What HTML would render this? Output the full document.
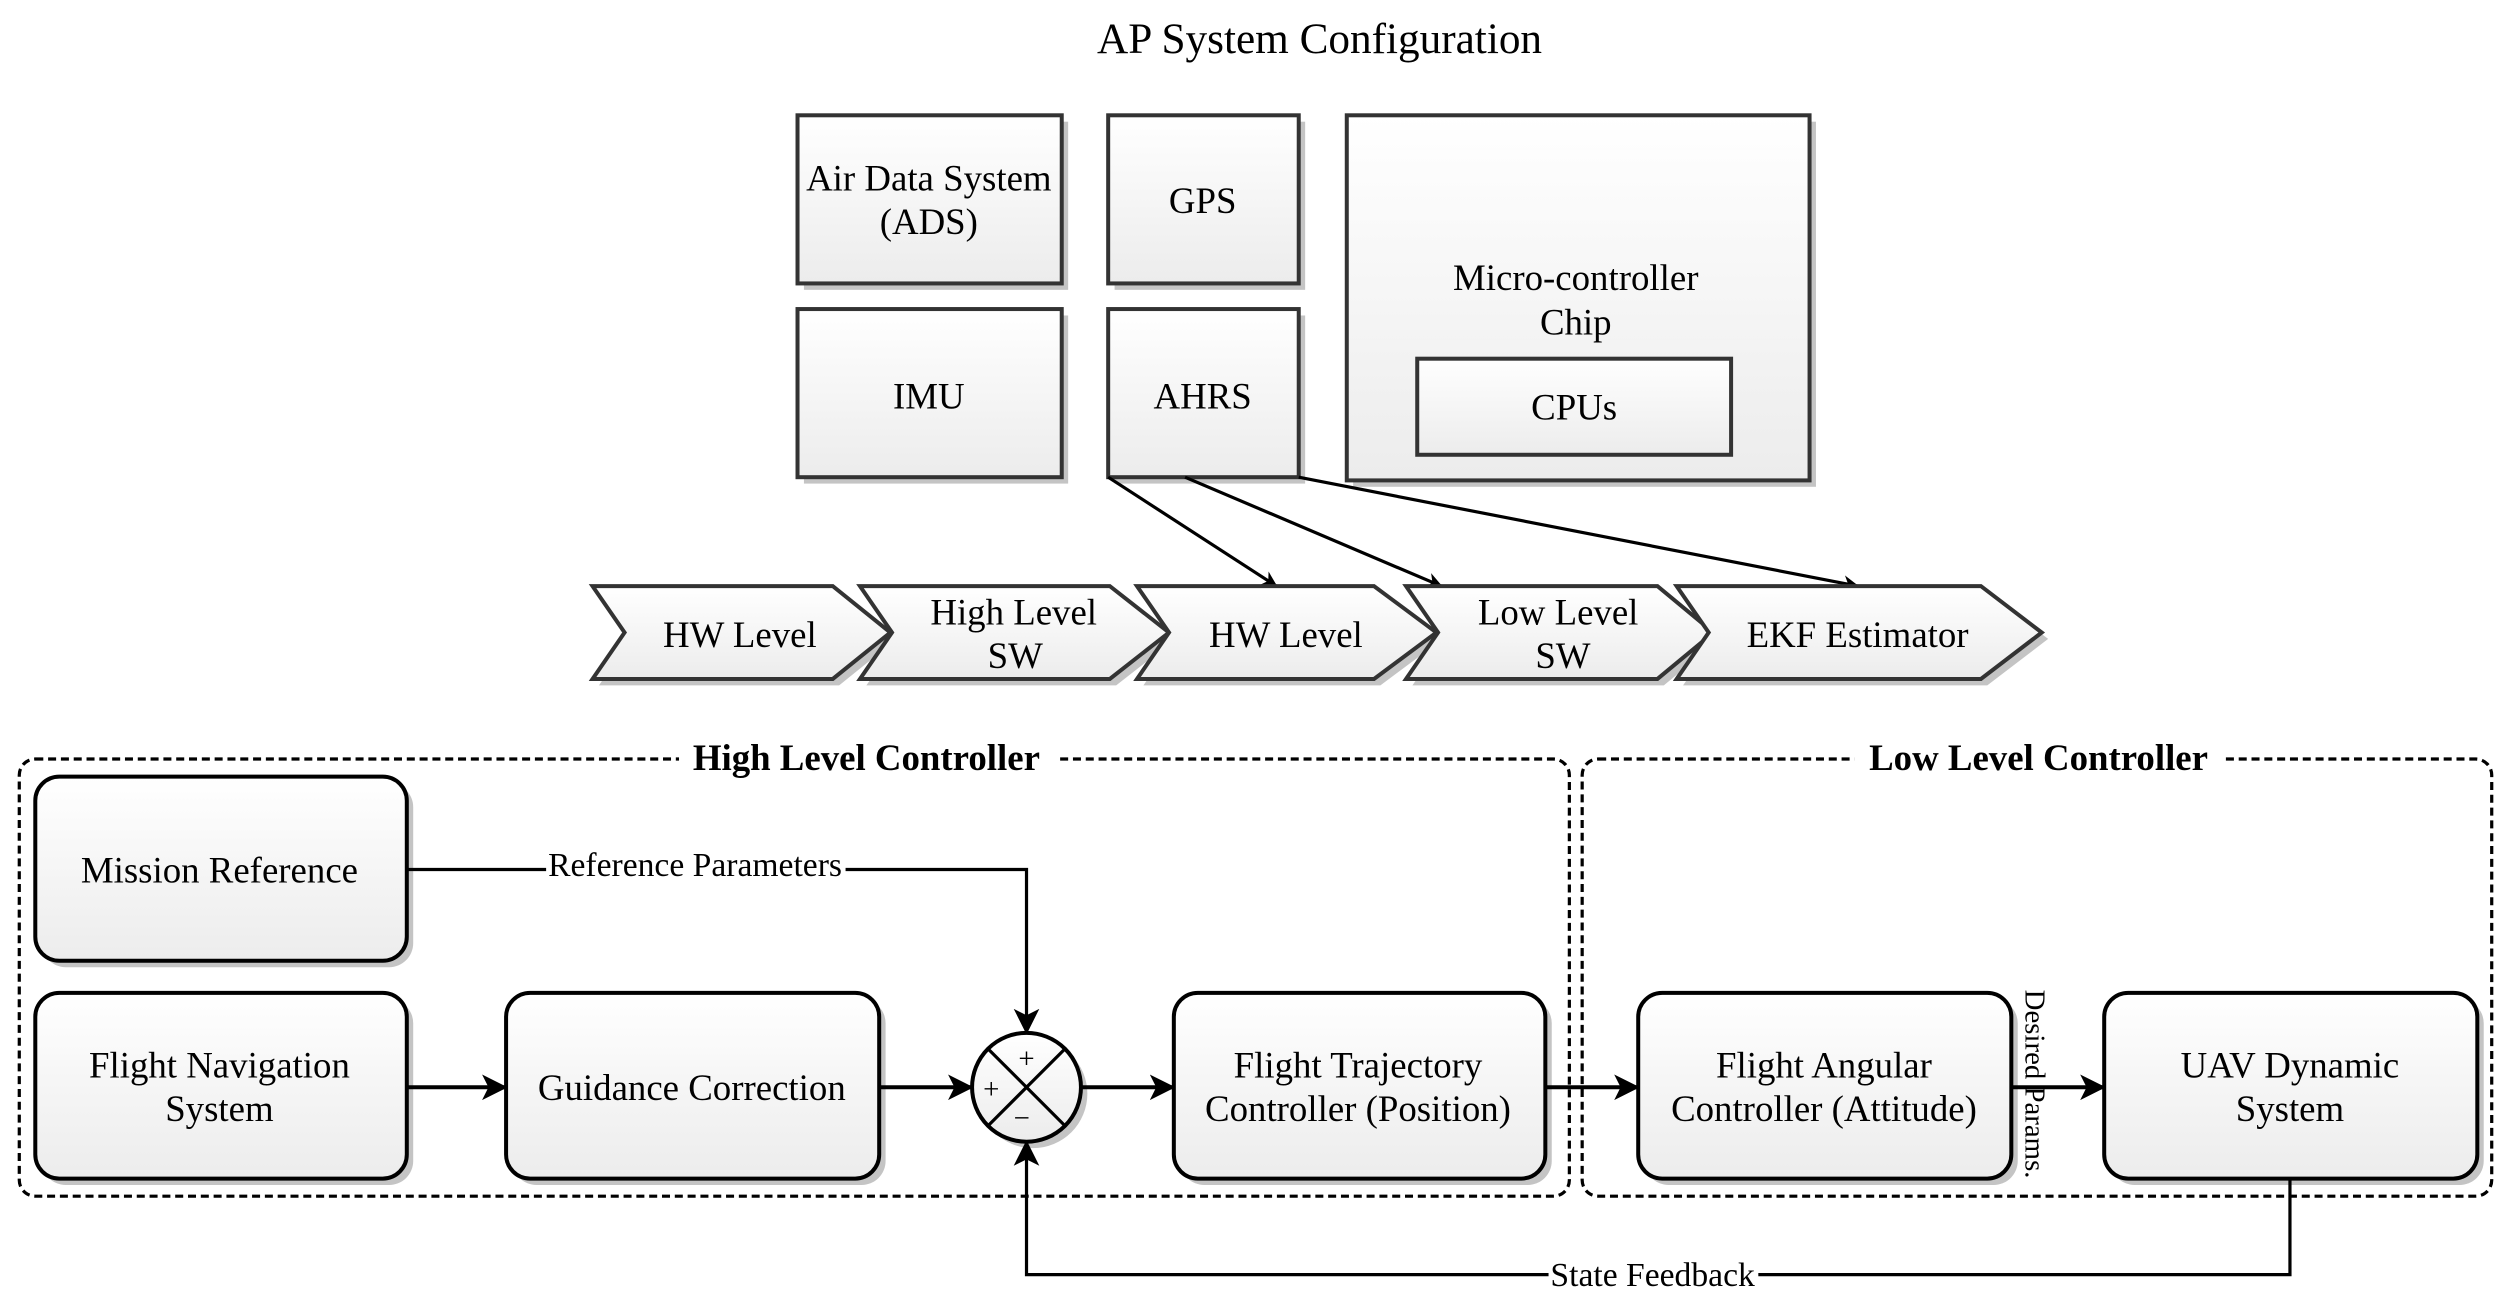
<!DOCTYPE html>
<html><head><meta charset="utf-8"><style>
html,body{margin:0;padding:0;background:#fff;}
svg{display:block;}
text{font-family:"Liberation Serif",serif;fill:#000;}
</style></head><body>
<svg width="2511" height="1307" viewBox="0 0 1568 816.2" xmlns="http://www.w3.org/2000/svg">
<defs>
<linearGradient id="g" x1="0" y1="0" x2="0" y2="1"><stop offset="0" stop-color="#ffffff"/><stop offset="1" stop-color="#ececec"/></linearGradient>
<marker id="a" markerWidth="10" markerHeight="10" refX="9" refY="5" orient="auto" markerUnits="userSpaceOnUse" viewBox="0 0 10 10"><path d="M0,0 L10,5 L0,10 L3,5 z" fill="#000"/></marker>
<marker id="b" markerWidth="16" markerHeight="16" refX="15" refY="8" orient="auto" markerUnits="userSpaceOnUse" viewBox="0 0 16 16"><path d="M0,0 L16,8 L0,16 L4,8 z" fill="#000"/></marker>
</defs>
<text x="824" y="33" font-size="27" text-anchor="middle">AP System Configuration</text>
<g fill="#c4c4c4">
<rect x="502" y="76" width="165" height="105"/><rect x="696" y="76" width="119" height="105"/><rect x="845" y="76" width="289" height="228"/>
<rect x="502" y="197" width="165" height="105"/><rect x="696" y="197" width="119" height="105"/><rect x="889" y="228" width="196" height="60"/>
</g>
<g fill="url(#g)" stroke="#333" stroke-width="2.5">
<rect x="498" y="72" width="165" height="105"/><rect x="692" y="72" width="119" height="105"/><rect x="841" y="72" width="289" height="228"/>
<rect x="498" y="193" width="165" height="105"/><rect x="692" y="193" width="119" height="105"/><rect x="885" y="224" width="196" height="60"/>
</g>
<g font-size="23" text-anchor="middle">
<text x="580" y="119">Air Data System</text><text x="580" y="146">(ADS)</text>
<text x="751" y="133">GPS</text>
<text x="984" y="181">Micro-controller</text><text x="984" y="209">Chip</text>
<text x="580" y="255">IMU</text><text x="751" y="255">AHRS</text><text x="983" y="262">CPUs</text>
</g>
<g stroke="#000" stroke-width="2" fill="none">
<line x1="692" y1="298" x2="797" y2="366" marker-end="url(#a)"/>
<line x1="740" y1="298" x2="900" y2="366" marker-end="url(#a)"/>
<line x1="811" y1="298" x2="1160" y2="366" marker-end="url(#a)"/>
</g>
<g fill="#c4c4c4">
<path d="M374,370 L524,370 L560,399 L524,428 L374,428 L394,399 z"/>
<path d="M541,370 L697,370 L734,399 L697,428 L541,428 L561,399 z"/>
<path d="M714,370 L862,370 L901,399 L862,428 L714,428 L734,399 z"/>
<path d="M882,370 L1039,370 L1074,399 L1039,428 L882,428 L902,399 z"/>
<path d="M1051,370 L1241,370 L1279,399 L1241,428 L1051,428 L1071,399 z"/>
</g>
<g fill="url(#g)" stroke="#333" stroke-width="2.5">
<path d="M370,366 L520,366 L556,395 L520,424 L370,424 L390,395 z"/>
<path d="M537,366 L693,366 L730,395 L693,424 L537,424 L557,395 z"/>
<path d="M710,366 L858,366 L897,395 L858,424 L710,424 L730,395 z"/>
<path d="M878,366 L1035,366 L1070,395 L1035,424 L878,424 L898,395 z"/>
<path d="M1047,366 L1237,366 L1275,395 L1237,424 L1047,424 L1067,395 z"/>
</g>
<g font-size="23" text-anchor="middle">
<text x="462" y="404">HW Level</text>
<text x="633" y="390">High Level</text><text x="634" y="417">SW</text>
<text x="803" y="404">HW Level</text>
<text x="973" y="390">Low Level</text><text x="976" y="417">SW</text>
<text x="1160" y="404">EKF Estimator</text>
</g>
<g fill="none" stroke="#000" stroke-width="2" stroke-dasharray="5,3">
<rect x="12" y="474" width="968" height="273" rx="10"/>
<rect x="988" y="474" width="568" height="273" rx="10"/>
</g>
<rect x="424" y="462" width="236" height="24" fill="#fff"/>
<rect x="1158" y="462" width="230" height="24" fill="#fff"/>
<g font-size="23" font-weight="bold" text-anchor="middle">
<text x="541" y="481">High Level Controller</text>
<text x="1273" y="481">Low Level Controller</text>
</g>
<g fill="#c4c4c4">
<rect x="26" y="489" width="232" height="115" rx="15"/>
<rect x="26" y="624" width="232" height="116" rx="15"/>
<rect x="320" y="624" width="233" height="116" rx="15"/>
<rect x="737" y="624" width="232" height="116" rx="15"/>
<rect x="1027" y="624" width="233" height="116" rx="15"/>
<rect x="1318" y="624" width="233" height="116" rx="15"/>
<circle cx="645" cy="683" r="34"/>
</g>
<g fill="url(#g)" stroke="#000" stroke-width="2.5">
<rect x="22" y="485" width="232" height="115" rx="15"/>
<rect x="22" y="620" width="232" height="116" rx="15"/>
<rect x="316" y="620" width="233" height="116" rx="15"/>
<rect x="733" y="620" width="232" height="116" rx="15"/>
<rect x="1023" y="620" width="233" height="116" rx="15"/>
<rect x="1314" y="620" width="233" height="116" rx="15"/>
<circle cx="641" cy="679" r="34"/>
</g>
<g stroke="#000" stroke-width="2">
<line x1="617" y1="655" x2="665" y2="703"/><line x1="665" y1="655" x2="617" y2="703"/>
</g>
<g font-size="23" text-anchor="middle">
<text x="137" y="551">Mission Reference</text>
<text x="137" y="673">Flight Navigation</text><text x="137" y="700">System</text>
<text x="432" y="687">Guidance Correction</text>
<text x="848" y="673">Flight Trajectory</text><text x="848" y="700">Controller (Position)</text>
<text x="1139" y="673">Flight Angular</text><text x="1139" y="700">Controller (Attitude)</text>
<text x="1430" y="673">UAV Dynamic</text><text x="1430" y="700">System</text>
</g>
<g font-size="18" text-anchor="middle">
<text x="641" y="667">+</text><text x="619" y="686">+</text><text x="638" y="704">−</text>
</g>
<g fill="none" stroke="#000" stroke-width="2.5">
<line x1="254" y1="679" x2="316" y2="679" marker-end="url(#b)"/>
<line x1="549" y1="679" x2="607" y2="679" marker-end="url(#b)"/>
<line x1="675" y1="679" x2="733" y2="679" marker-end="url(#b)"/>
<line x1="965" y1="679" x2="1023" y2="679" marker-end="url(#b)"/>
<line x1="1256" y1="679" x2="1314" y2="679" marker-end="url(#b)"/>
</g>
<g fill="none" stroke="#000" stroke-width="2">
<polyline points="254,543 641,543 641,645" marker-end="url(#b)"/>
<polyline points="1430,736 1430,796 641,796 641,713" marker-end="url(#b)"/>
</g>
<rect x="341" y="530" width="187" height="20" fill="#fff"/>
<rect x="967" y="786" width="131" height="20" fill="#fff"/>
<g font-size="21" text-anchor="middle">
<text x="434" y="547">Reference Parameters</text>
<text x="1032" y="803">State Feedback</text>
</g>
<text font-size="18" text-anchor="middle" transform="translate(1265,677) rotate(90)">Desired Params.</text>
</svg>
</body></html>
